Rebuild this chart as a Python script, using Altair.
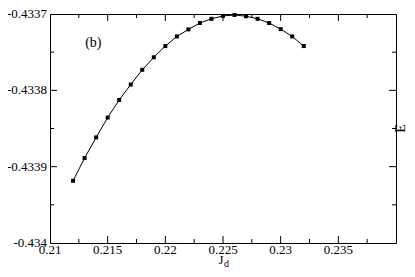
import altair as alt
import pandas as pd

# data
jd = [0.212, 0.213, 0.214, 0.215, 0.216, 0.217, 0.218, 0.219, 0.220, 0.221, 0.222,
      0.223, 0.224, 0.225, 0.226, 0.227, 0.228, 0.229, 0.230, 0.231, 0.232]
energy = [-0.4339185, -0.4338887, -0.4338617, -0.4338357, -0.4338126, -0.4337924,
          -0.4337731, -0.4337567, -0.4337420, -0.4337294, -0.4337202, -0.4337118,
          -0.4337063, -0.4337025, -0.4337013, -0.4337029, -0.4337063, -0.4337118,
          -0.4337198, -0.4337294, -0.4337420]

x_labels = [0.21, 0.215, 0.22, 0.225, 0.23, 0.235]
x_major_ticks = [0.215, 0.22, 0.225, 0.23, 0.235]
x_minor_ticks = [0.2125, 0.2175, 0.2225, 0.2275, 0.2325, 0.2375]
y_labels = [-0.434, -0.4339, -0.4338, -0.4337]
y_major_ticks = [-0.4339, -0.4338]
y_minor_ticks = [-0.43395, -0.43385, -0.43375]

FONT = "Liberation Serif, Times New Roman, serif"
W, H = 346, 229

xs = alt.Scale(domain=[0.21, 0.24], nice=False, zero=False)
ys = alt.Scale(domain=[-0.434, -0.4337], nice=False, zero=False)

df = pd.DataFrame({"jd": jd, "E": energy})
one = pd.DataFrame({"k": [0]})

X = lambda f: alt.X(f, scale=xs, axis=None)
Y = lambda f: alt.Y(f, scale=ys, axis=None)

line = alt.Chart(df).mark_line(color="black", strokeWidth=1).encode(x=X("jd:Q"), y=Y("E:Q"))
pts = alt.Chart(df).mark_point(shape="square", filled=True, size=16, color="black",
                               opacity=1).encode(x=X("jd:Q"), y=Y("E:Q"))


def xticks(vals, length):
    d = pd.DataFrame({"jd": vals})
    bottom = alt.Chart(d).mark_rule(color="black", strokeWidth=1).encode(
        x=X("jd:Q"), y=alt.value(H), y2=alt.value(H - length))
    top = alt.Chart(d).mark_rule(color="black", strokeWidth=1).encode(
        x=X("jd:Q"), y=alt.value(0), y2=alt.value(length))
    return [bottom, top]


def yticks(vals, length):
    d = pd.DataFrame({"E": vals})
    left = alt.Chart(d).mark_rule(color="black", strokeWidth=1).encode(
        y=Y("E:Q"), x=alt.value(0), x2=alt.value(length))
    right = alt.Chart(d).mark_rule(color="black", strokeWidth=1).encode(
        y=Y("E:Q"), x=alt.value(W), x2=alt.value(W - length))
    return [left, right]


ticks = xticks(x_major_ticks, 7) + xticks(x_minor_ticks, 4) + yticks(y_major_ticks, 7) + yticks(y_minor_ticks, 4)

xlab_df = pd.DataFrame({"jd": x_labels, "t": [str(v) for v in x_labels]})
ylab_df = pd.DataFrame({"E": y_labels, "t": [str(v) for v in y_labels]})

xlab = alt.Chart(xlab_df).mark_text(font=FONT, fontSize=13, color="black", align="center",
                                    baseline="top").encode(
    x=X("jd:Q"), y=alt.value(H + 1), text="t:N")
ylab = alt.Chart(ylab_df).mark_text(font=FONT, fontSize=13, color="black", align="right",
                                    baseline="middle").encode(
    y=Y("E:Q"), x=alt.value(-3), text="t:N")

label_b = alt.Chart(one).mark_text(text="(b)", font=FONT, fontSize=14, color="black").encode(
    x=alt.datum(0.21376), y=alt.datum(-0.433738))
title_j = alt.Chart(one).mark_text(text="J", font=FONT, fontSize=13, color="black",
                                   baseline="alphabetic", align="center").encode(
    x=alt.value(W / 2 - 2), y=alt.value(H + 21))
title_d = alt.Chart(one).mark_text(text="d", font=FONT, fontSize=10, color="black",
                                   baseline="alphabetic", align="center").encode(
    x=alt.value(W / 2 + 3.5), y=alt.value(H + 24))
title_e = alt.Chart(one).mark_text(text="E", font=FONT, fontSize=14, color="black",
                                   angle=270, baseline="middle", align="center").encode(
    x=alt.value(W + 5), y=alt.value(H / 2))

chart = alt.layer(line, pts, *ticks, xlab, ylab, label_b, title_j, title_d, title_e).properties(
    width=W, height=H,
    padding={"left": 42, "top": 6, "right": 11, "bottom": 26},
    autosize=alt.AutoSizeParams(type="none"),
).configure(
    background="white"
).configure_view(
    stroke="black", strokeWidth=1
)

chart.save("out.html", embed_options={"renderer": "svg", "actions": False})
